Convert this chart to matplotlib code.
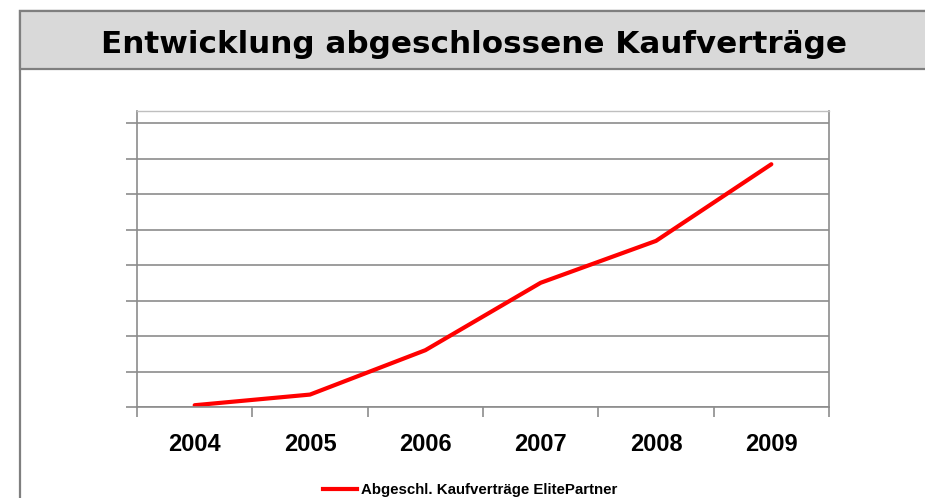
import matplotlib.pyplot as plt
from matplotlib.patches import Rectangle
from matplotlib.lines import Line2D
import numpy as np

# Data (arbitrary units – the chart has no y labels)
years = ['2004', '2005', '2006', '2007', '2008', '2009']
vertraege = [5, 35, 160, 350, 468, 684]
series_name = 'Abgeschl. Kaufverträge ElitePartner'
title = 'Entwicklung abgeschlossene Kaufverträge'

plt.rcParams['font.family'] = ['Liberation Sans', 'DejaVu Sans']

W, H = 925, 498
fig = plt.figure(figsize=(W / 100, H / 100), dpi=100)

# outer frame with grey title band
frame_col = '#7f7f7f'
fig.patches.append(Rectangle((20 / W, -0.1), 1.2, 1 - 11 / H + 0.1, transform=fig.transFigure,
                             facecolor='white', edgecolor=frame_col, linewidth=1.6, zorder=0))
fig.patches.append(Rectangle((20 / W, 1 - 69 / H), 1.2, 58 / H, transform=fig.transFigure,
                             facecolor='#d9d9d9', edgecolor=frame_col, linewidth=1.6, zorder=1))
fig.text(474 / W, 1 - 53 / H, title, ha='center', va='baseline', family='DejaVu Sans',
         fontsize=22.3, fontweight='bold', color='black', zorder=2)

# plot area
ax = fig.add_axes([137 / W, 1 - 407 / H, (829 - 137) / W, (407 - 111) / H])
ax.set_zorder(5)
x = np.arange(len(years))
line, = ax.plot(x, vertraege, color='#ff0000', linewidth=3, solid_capstyle='round')

ax.set_xlim(-0.5, len(years) - 0.5)
ax.set_ylim(0, 834)
ax.set_yticks(np.arange(0, 801, 100))
ax.set_yticklabels([])
ax.yaxis.grid(True, color='#8c8c8c', linewidth=1.2)
ax.set_axisbelow(True)
ax.tick_params(axis='y', length=8, color='#8c8c8c', width=1.2)

ax.set_xticks(x)
ax.set_xticklabels(years, fontsize=17, fontweight='bold')
ax.set_xticks(np.arange(-0.5, len(years), 1), minor=True)
ax.tick_params(axis='x', which='major', length=0, pad=19)
ax.tick_params(axis='x', which='minor', length=7, color='#8c8c8c', width=1.2)

for side in ['left', 'bottom', 'right']:
    ax.spines[side].set_color('#8c8c8c')
    ax.spines[side].set_linewidth(1.2)
ax.spines['top'].set_color('#bfbfbf')
ax.spines['top'].set_linewidth(1)

# legend drawn by hand at the bottom edge
fig.lines.append(Line2D([323 / W, 357 / W], [1 - 489 / H] * 2, transform=fig.transFigure,
                        color='#ff0000', linewidth=3, zorder=6))
fig.text(361 / W, 1 - 494 / H, series_name, ha='left', va='baseline',
         fontsize=10.8, fontweight='bold', color='black', zorder=6)

fig.savefig('out.png', dpi=100)
